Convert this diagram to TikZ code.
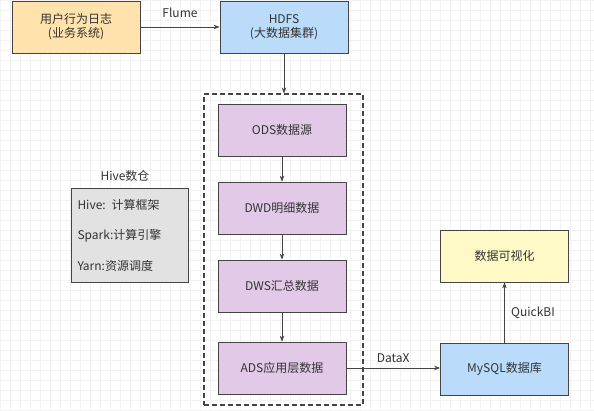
\documentclass[tikz,border=0pt]{standalone}
\usepackage{fontspec}
\setmainfont{Noto Sans CJK SC}
\usetikzlibrary{arrows.meta}

\definecolor{logfill}{RGB}{255,226,172}
\definecolor{hdfsfill}{RGB}{186,220,250}
\definecolor{layerfill}{RGB}{227,201,232}
\definecolor{vizfill}{RGB}{255,249,200}
\definecolor{hivefill}{RGB}{226,226,226}
\definecolor{edgegray}{RGB}{68,68,68}

\begin{document}
\begin{tikzpicture}[%
        x = 1pt,
        y = -1pt,
        line width = 0.8pt,
        font = \fontsize{12}{14}\selectfont,
        box/.style = {
            rectangle,
            draw = edgegray,
            text = black!80,
            align = center,
            minimum width = 128pt,
            minimum height = 52pt,
            inner sep = 0pt
        },
        flow/.style = {
            draw = edgegray,
            -{Stealth[length = 6pt, width = 4.5pt]}
        }
    ]

        % Canvas and faint grid.
        \useasboundingbox (0,0) rectangle (594,411);
        \fill[white] (0,0) rectangle (594,411);
        \draw[black!5, line width = 0.4pt, step = 10pt] (0,0) grid (594,411);

        % Source and storage.
        \node[box, fill = logfill] (log) at (76,27) {用户行为日志\\(业务系统)};
        \node[box, fill = hdfsfill] (hdfs) at (284,27) {HDFS\\(大数据集群)};

        % Warehouse layers.
        \node[draw = edgegray, dash pattern = on 5pt off 3pt, line width = 1.1pt,
              minimum width = 159pt, minimum height = 311pt,
              inner sep = 0pt] (dw) at (283.5,249.5) {};
        \node[box, fill = layerfill] (ods) at (282,130) {ODS数据源};
        \node[box, fill = layerfill] (dwd) at (282,208) {DWD明细数据};
        \node[box, fill = layerfill] (dws) at (282,286) {DWS汇总数据};
        \node[box, fill = layerfill] (ads) at (282,368) {ADS应用层数据};

        % Hive tools.
        \node[text = black!80] (hivelabel) at (125,176) {Hive数仓};
        \node[box, fill = hivefill, minimum width = 117pt,
              minimum height = 94pt, text width = 104pt,
              align = left, font = \fontsize{12}{30.5}\selectfont]
              (hive) at (129.5,235) {Hive: 计算框架\\Spark:计算引擎\\Yarn:资源调度};

        % Output side.
        \node[box, fill = vizfill] (viz) at (504.5,256) {数据可视化};
        \node[box, fill = hdfsfill] (mysql) at (504.5,369) {MySQL数据库};

        % Connections.
        \draw[flow] (log) -- node[above = 6pt, text = black!80] {Flume} (hdfs);
        \draw[flow] (hdfs.south) -- (hdfs.south |- dw.north);
        \draw[flow] (ods) -- (dwd);
        \draw[flow] (dwd) -- (dws);
        \draw[flow] (dws) -- (ads);
        \draw[flow] (ads.east) -- node[above = 2pt, text = black!80] {DataX} (ads.east -| mysql.west);
        \draw[flow] (mysql) -- node[right = 3pt, text = black!80] {QuickBI} (viz);
    \end{tikzpicture}
\end{document}
